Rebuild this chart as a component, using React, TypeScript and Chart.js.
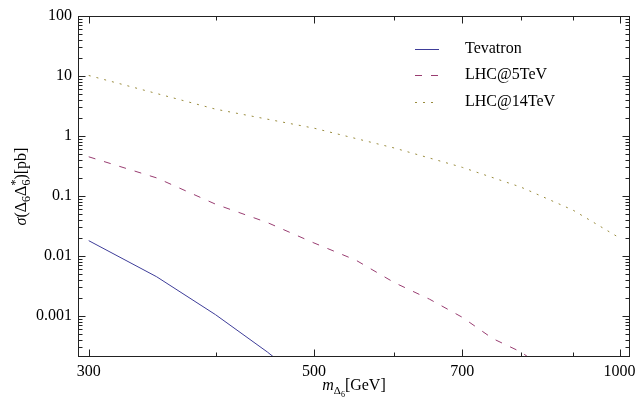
import React, { useEffect, useRef } from 'react';
import { Chart, registerables } from 'chart.js';

Chart.register(...registerables);

// ---- data ----
const TEV_MASS = [300, 350, 400, 450, 500];
const TEV_XSEC = [0.018, 0.0045, 0.00105, 0.00025, 0.00006];

const LHC5_MASS = [300, 350, 400, 450, 500, 550, 600, 650, 700, 750, 800, 850];
const LHC5_XSEC = [0.45, 0.2, 0.073, 0.036, 0.0165, 0.0085, 0.0036, 0.0019, 0.00095, 0.00042, 0.00025, 0.00012];

const LHC14_MASS = [300, 400, 500, 600, 700, 800, 900, 1000];
const LHC14_XSEC = [10.2, 2.8, 1.35, 0.63, 0.3, 0.14, 0.058, 0.02];

const SERIES_NAMES = ['Tevatron', 'LHC@5TeV', 'LHC@14TeV'];
const X_TICKS = [300, 500, 700, 1000];
const X_MINOR_TICKS = [400, 600, 800, 900];
const Y_TICKS = [0.001, 0.01, 0.1, 1, 10, 100];

const X_MIN = 292.8;
const X_MAX = 1024;
const Y_MIN = 0.000207;
const Y_MAX = 100;

const COLORS = ['rgb(62,61,153)', 'rgb(153,61,113)', 'rgb(153,139,61)'];
const DASHES: number[][] = [[], [7, 9], [2, 6]];
const FONT = '"Liberation Serif", "Times New Roman", serif';

function toPts(xs: number[], ys: number[]) {
  return xs.map((x, i) => ({ x, y: ys[i] }));
}

type Run = { t: string; size: number; italic?: boolean; dy?: number; stack?: boolean };

function runsWidth(ctx: CanvasRenderingContext2D, runs: Run[]) {
  let w = 0;
  let pending = 0;
  for (const r of runs) {
    ctx.font = `${r.italic ? 'italic ' : ''}${r.size}px ${FONT}`;
    const m = ctx.measureText(r.t).width;
    if (r.stack) {
      pending = Math.max(pending, m);
    } else {
      w += Math.max(pending, m);
      pending = 0;
    }
  }
  return w;
}

function drawRuns(ctx: CanvasRenderingContext2D, runs: Run[], cx: number, baseline: number) {
  const total = runsWidth(ctx, runs);
  let x = cx - total / 2;
  let pending = 0;
  ctx.textAlign = 'left';
  ctx.textBaseline = 'alphabetic';
  for (const r of runs) {
    ctx.font = `${r.italic ? 'italic ' : ''}${r.size}px ${FONT}`;
    const m = ctx.measureText(r.t).width;
    ctx.fillText(r.t, x, baseline + (r.dy || 0));
    if (r.stack) {
      pending = Math.max(pending, m);
    } else {
      x += Math.max(pending, m);
      pending = 0;
    }
  }
}

const framePlugin = {
  id: 'framePlugin',
  afterDraw(chart: any) {
    const ctx: CanvasRenderingContext2D = chart.ctx;
    const { left, right, top, bottom } = chart.chartArea;
    const xs = chart.scales.x;
    const ys = chart.scales.y;
    ctx.save();
    ctx.strokeStyle = '#222';
    ctx.lineWidth = 1;
    ctx.strokeRect(Math.round(left) + 0.5, Math.round(top) + 0.5, Math.round(right - left) - 1, Math.round(bottom - top) - 1);

    const L = Math.round(left) + 0.5;
    const R = Math.round(right) - 0.5;
    const T = Math.round(top) + 0.5;
    const B = Math.round(bottom) - 0.5;

    ctx.beginPath();
    const xTick = (v: number, len: number) => {
      const px = Math.round(xs.getPixelForValue(v)) + 0.5;
      ctx.moveTo(px, B);
      ctx.lineTo(px, B - len);
      ctx.moveTo(px, T);
      ctx.lineTo(px, T + len);
    };
    X_TICKS.forEach((v) => xTick(v, 7));
    X_MINOR_TICKS.forEach((v) => xTick(v, 4));

    const yTick = (v: number, len: number) => {
      const py = Math.round(ys.getPixelForValue(v)) + 0.5;
      ctx.moveTo(L, py);
      ctx.lineTo(L + len, py);
      ctx.moveTo(R, py);
      ctx.lineTo(R - len, py);
    };
    Y_TICKS.forEach((v) => yTick(v, 7));
    for (let e = -4; e <= 1; e++) {
      for (let k = 2; k <= 9; k++) {
        const v = k * Math.pow(10, e);
        if (v > Y_MIN && v < Y_MAX) yTick(v, 4);
      }
    }
    ctx.stroke();

    // legend
    const legendYs = [49, 75, 102];
    chart.data.datasets.forEach((ds: any, i: number) => {
      const y = legendYs[i] + 0.5;
      ctx.save();
      ctx.strokeStyle = ds.borderColor;
      ctx.lineWidth = 1;
      ctx.setLineDash(ds.borderDash || []);
      ctx.beginPath();
      ctx.moveTo(415, y);
      ctx.lineTo(439, y);
      ctx.stroke();
      ctx.restore();
      ctx.fillStyle = '#000';
      ctx.font = `16px ${FONT}`;
      ctx.textAlign = 'left';
      ctx.textBaseline = 'middle';
      ctx.fillText(ds.label, 465, legendYs[i]);
    });

    // axis titles
    ctx.fillStyle = '#000';
    const cx = (left + right) / 2;
    drawRuns(
      ctx,
      [
        { t: 'm', size: 16, italic: true },
        { t: 'Δ', size: 11, dy: 4 },
        { t: '6', size: 8, dy: 7 },
        { t: '[GeV]', size: 16 },
      ],
      cx,
      390
    );
    ctx.save();
    ctx.translate(26, (top + bottom) / 2);
    ctx.rotate(-Math.PI / 2);
    drawRuns(
      ctx,
      [
        { t: 'σ', size: 16, italic: true },
        { t: '(Δ', size: 16 },
        { t: '6', size: 12, dy: 4 },
        { t: 'Δ', size: 16 },
        { t: '*', size: 12, dy: -7, stack: true },
        { t: '6', size: 12, dy: 4 },
        { t: ')[pb]', size: 16 },
      ],
      0,
      0
    );
    ctx.restore();
    ctx.restore();
  },
};

export default function App() {
  const ref = useRef<HTMLCanvasElement | null>(null);
  useEffect(() => {
    if (!ref.current) return;
    const chart = new Chart(ref.current, {
      type: 'line',
      data: {
        datasets: [
          { label: SERIES_NAMES[0], data: toPts(TEV_MASS, TEV_XSEC) },
          { label: SERIES_NAMES[1], data: toPts(LHC5_MASS, LHC5_XSEC) },
          { label: SERIES_NAMES[2], data: toPts(LHC14_MASS, LHC14_XSEC) },
        ].map((d, i) => ({
          ...d,
          borderColor: COLORS[i],
          backgroundColor: COLORS[i],
          borderWidth: 1,
          borderDash: DASHES[i],
          pointRadius: 0,
          tension: 0,
          fill: false,
        })),
      },
      options: {
        animation: false,
        responsive: false,
        events: [],
        layout: { padding: { top: 16, right: 6, left: 0, bottom: 0 } },
        plugins: { legend: { display: false }, tooltip: { enabled: false } },
        scales: {
          x: {
            type: 'logarithmic',
            min: X_MIN,
            max: X_MAX,
            grid: { display: false, drawTicks: false },
            border: { display: false },
            afterBuildTicks: (s: any) => {
              s.ticks = X_TICKS.map((v) => ({ value: v }));
            },
            afterFit: (s: any) => {
              s.height = 46;
              s.paddingLeft = 0;
              s.paddingRight = 0;
            },
            ticks: {
              autoSkip: false,
              maxRotation: 0,
              padding: 5,
              color: '#000',
              font: { family: FONT, size: 16 },
              callback: (v: any) => String(v),
            },
          },
          y: {
            type: 'logarithmic',
            min: Y_MIN,
            max: Y_MAX,
            grid: { display: false, drawTicks: false },
            border: { display: false },
            afterBuildTicks: (s: any) => {
              s.ticks = Y_TICKS.map((v) => ({ value: v }));
            },
            afterFit: (s: any) => {
              s.width = 78;
              s.paddingTop = 0;
              s.paddingBottom = 0;
            },
            ticks: {
              autoSkip: false,
              padding: 6,
              color: '#000',
              font: { family: FONT, size: 16 },
              callback: (v: any) => String(v),
            },
          },
        },
      },
      plugins: [framePlugin],
    } as any);
    return () => chart.destroy();
  }, []);
  return (
    <div style={{ position: 'absolute', left: 0, top: 0, width: 636, height: 403 }}>
      <canvas ref={ref} width={636} height={403} style={{ display: 'block' }} />
    </div>
  );
}
